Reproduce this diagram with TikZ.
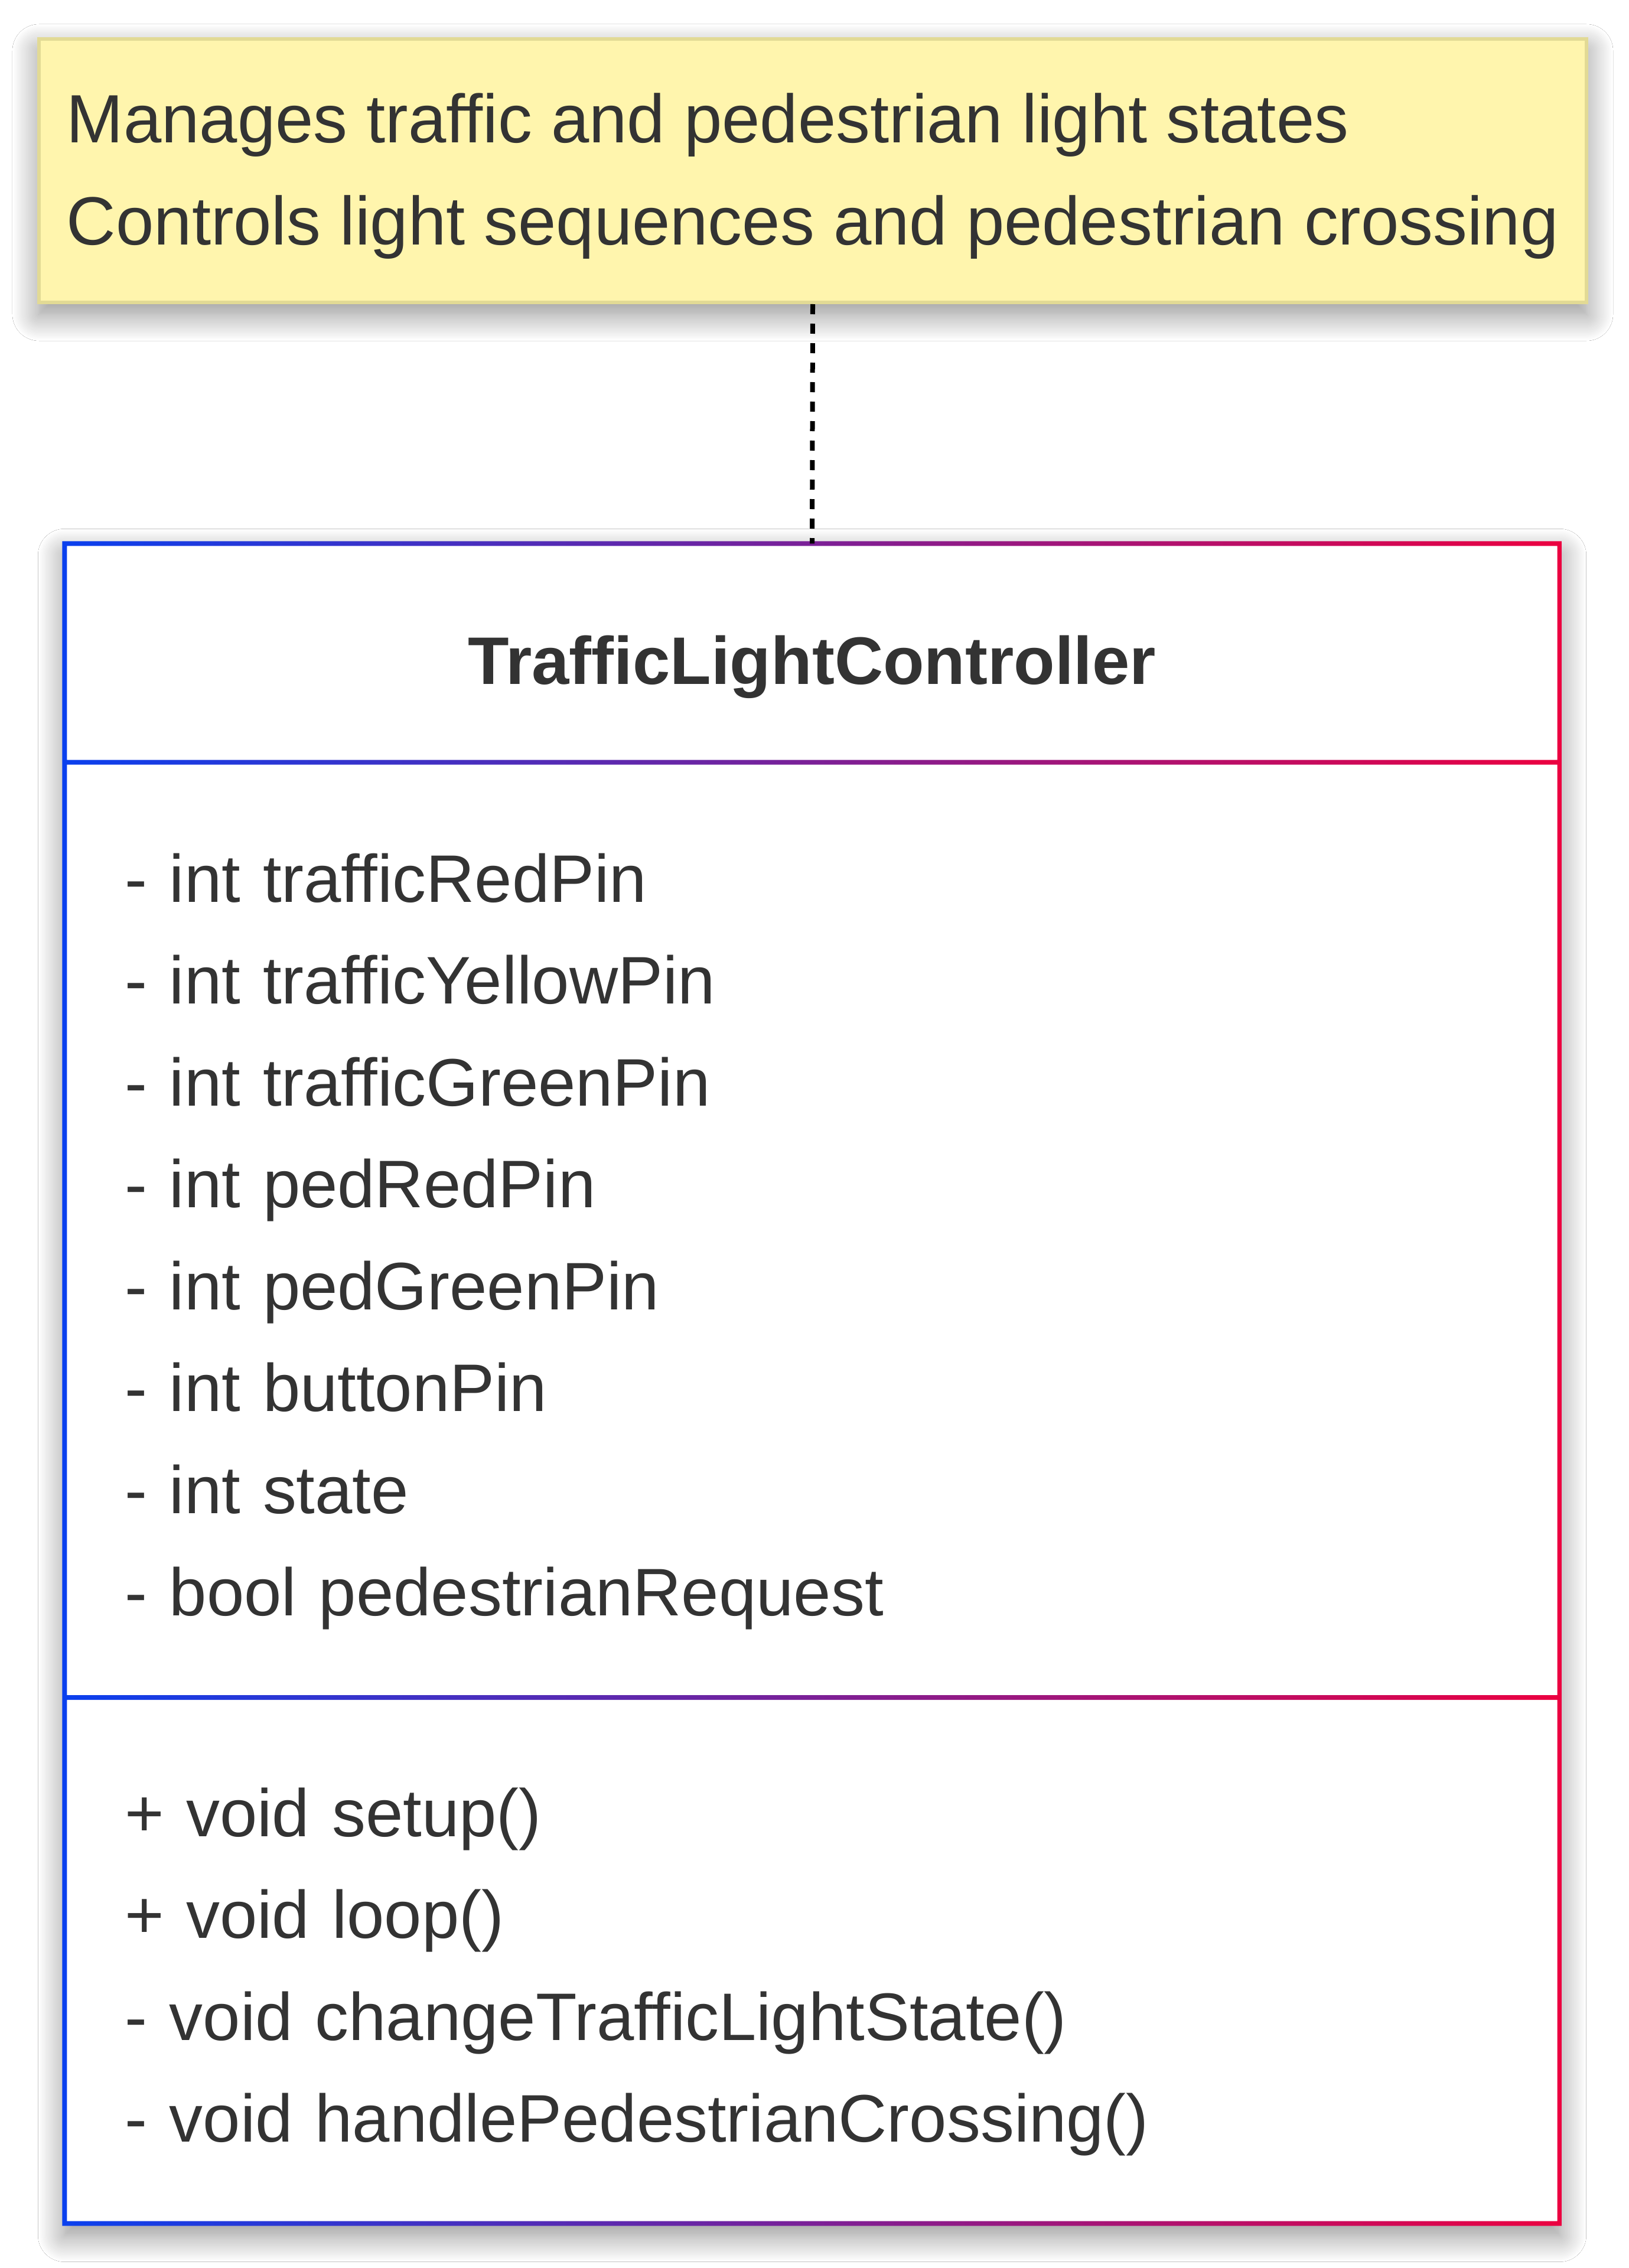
\documentclass[tikz,border=0pt]{standalone}
\usepackage{fontspec}
\setmainfont{Liberation Sans}
\usepackage{xcolor}
\usepackage{tikz}
\usetikzlibrary{positioning,calc,backgrounds,shadows.blur}
\definecolor{notefill}{HTML}{FFF5AD}
\definecolor{noteline}{HTML}{E2DA95}
\definecolor{umlblue}{HTML}{0A40EE}
\definecolor{umlred}{HTML}{EC0040}
\definecolor{ink}{HTML}{333333}
\newcommand\umlfont{\fontsize{32.4pt}{49.1pt}\selectfont}
\newcommand\notefont{\fontsize{32.9pt}{49.3pt}\selectfont}
\def\fw{0.04}
\tikzset{
  softshadow/.style={blur shadow={shadow xshift=0cm, shadow yshift=-0.2cm,
                     shadow blur radius=0.45cm, shadow blur steps=20, shadow opacity=45}},
  note/.style={draw=noteline, fill=notefill, line width=0.06cm, align=left,
               text=ink, font=\notefont, minimum width=26.2cm, text height=2.76cm,
               minimum height=4.46cm, inner sep=0pt, softshadow},
  part/.style={minimum width=25.3cm, inner xsep=1.01cm, inner ysep=0pt,
               text width=23.28cm, align=left, text=ink, font=\umlfont,
               text height=1.21cm},
  frame/.style={left color=umlblue, right color=umlred, even odd rule},
  dotline/.style={line width=0.08cm, dash pattern=on 0.17cm off 0.16cm}
}

\begin{document}
\begin{tikzpicture}[x=1cm,y=1cm]
  \useasboundingbox (0,0) rectangle (27.57,-38.40);
  \node[note] (note) at (13.76,-2.89)
    {Manages traffic and pedestrian light states\\Controls light sequences and pedestrian crossing};
  \node[part, minimum height=3.69cm, align=center, font=\umlfont\bfseries, text height=1.31cm]
    (title) at (13.75,-11.055) {TrafficLightController};
  \node[part, minimum height=15.82cm, below=0cm of title] (attrs)
    {- int trafficRedPin\\- int trafficYellowPin\\- int trafficGreenPin\\- int pedRedPin\\
     - int pedGreenPin\\- int buttonPin\\- int state\\- bool pedestrianRequest};
  \node[part, minimum height=8.89cm, below=0cm of attrs] (meths)
    {+ void setup()\\+ void loop()\\- void changeTrafficLightState()\\- void handlePedestrianCrossing()};
  \begin{scope}[on background layer]
    \fill[white] (0,0) rectangle (27.57,-38.40);
    \fill[white, softshadow] (title.north west) rectangle (meths.south east);
  \end{scope}
  % outline and separators in one shaded path
  \shade[frame] ($(title.north west)+(-\fw,\fw)$) rectangle ($(meths.south east)+(\fw,-\fw)$)
    ($(title.north west)+(\fw,-\fw)$) rectangle ($(title.south east)+(-\fw,\fw)$)
    ($(attrs.north west)+(\fw,-\fw)$) rectangle ($(attrs.south east)+(-\fw,\fw)$)
    ($(meths.north west)+(\fw,-\fw)$) rectangle ($(meths.south east)+(-\fw,\fw)$);
  \draw[dotline] (note.south) -- (title.north);
\end{tikzpicture}
\end{document}
